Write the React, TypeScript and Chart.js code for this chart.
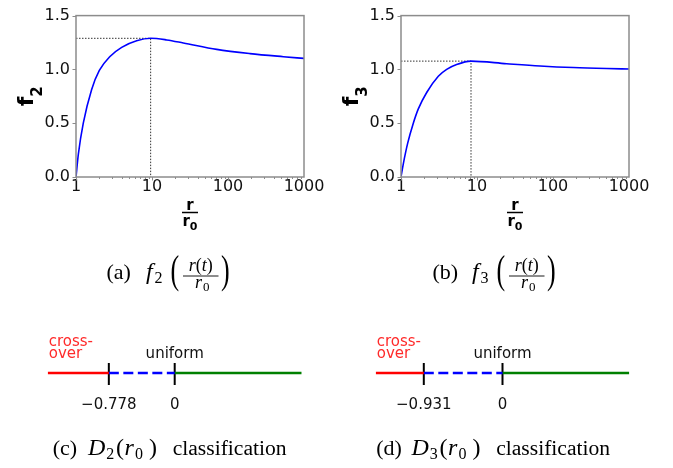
import React, { useEffect, useRef } from 'react';
import { Chart, registerables } from 'chart.js';

Chart.register(...registerables);

// ---------- data ----------
const f2R = [1, 1.074, 1.247, 1.607, 2.028, 2.8, 3.99, 6.28, 9.6, 15.6, 25.8, 71, 194.5, 534.6, 1000];
const f2V = [0, 0.212, 0.5, 0.814, 0.99, 1.12, 1.205, 1.266, 1.289, 1.274, 1.246, 1.186, 1.147, 1.118, 1.102];
const f2Peak = { r: 9.6, v: 1.289 };

const f3R = [1, 1.074, 1.225, 1.452, 1.69, 2.178, 3.097, 3.99, 5.395, 8.34, 24.5, 67.5, 185, 508, 1000];
const f3V = [0, 0.125, 0.315, 0.5, 0.633, 0.785, 0.936, 1.0, 1.045, 1.077, 1.053, 1.032, 1.017, 1.008, 1.004];
const f3Peak = { r: 8.34, v: 1.077 };

const xTickValues = [1, 10, 100, 1000];
const yTickValues = [0, 0.5, 1.0, 1.5];

const lineRange = [-1.5, 1.5];
const d2Thresholds = [-0.778, 0];
const d3Thresholds = [-0.931, 0];
const thresholdLabels2 = ['\u22120.778', '0'];
const thresholdLabels3 = ['\u22120.931', '0'];
const regionLabels = ['cross-', 'over'];
const uniformLabel = 'uniform';

// ---------- plot chart ----------
type PlotProps = {
  left: number; width: number; plotLeft: number; plotRight: number;
  rs: number[]; vs: number[]; peak: { r: number; v: number }; sub: string;
};

const H = 240;
const PLOT_TOP = 11;
const PLOT_BOTTOM = 177;

function PlotChart(p: PlotProps) {
  const ref = useRef<HTMLCanvasElement>(null);
  useEffect(() => {
    const canvas = ref.current!;
    const decor = {
      id: 'decor',
      afterDraw(chart: any) {
        const { ctx, chartArea: a, scales } = chart;
        ctx.save();
        ctx.strokeStyle = '#8c8c8c';
        ctx.lineWidth = 1.5;
        ctx.strokeRect(a.left, a.top, a.right - a.left, a.bottom - a.top);
        ctx.lineWidth = 1;
        const xs = scales.x;
        for (const dec of [1, 10, 100]) {
          for (let m = 1; m <= 9; m++) {
            const px = Math.round(xs.getPixelForValue(dec * m)) + 0.5;
            const len = m === 1 ? 3.5 : 2;
            ctx.beginPath();
            ctx.moveTo(px, a.bottom);
            ctx.lineTo(px, a.bottom + len);
            ctx.stroke();
          }
        }
        const ys = scales.y;
        for (const v of yTickValues) {
          const py = Math.round(ys.getPixelForValue(v)) + 0.5;
          ctx.beginPath();
          ctx.moveTo(a.left - 3.5, py);
          ctx.lineTo(a.left, py);
          ctx.stroke();
        }
        // y title  f_sub (rotated)
        ctx.fillStyle = '#000';
        ctx.translate(a.left - 43, (a.top + a.bottom) / 2);
        ctx.rotate(-Math.PI / 2);
        ctx.font = 'bold 22px "DejaVu Sans"';
        const wf = ctx.measureText('f').width;
        ctx.font = 'bold 15px "DejaVu Sans"';
        const ws = ctx.measureText(p.sub).width;
        const x0 = -(wf + ws) / 2;
        ctx.textBaseline = 'alphabetic';
        ctx.textAlign = 'left';
        ctx.font = 'bold 22px "DejaVu Sans"';
        ctx.fillText('f', x0, 0);
        ctx.font = 'bold 15px "DejaVu Sans"';
        ctx.fillText(p.sub, x0 + wf, 9);
        ctx.restore();
        // x title  r / r0
        ctx.save();
        ctx.fillStyle = '#000';
        const cx = (a.left + a.right) / 2;
        ctx.textBaseline = 'alphabetic';
        ctx.textAlign = 'center';
        ctx.font = 'bold 15px "DejaVu Sans"';
        ctx.fillText('r', cx, a.bottom + 33);
        ctx.strokeStyle = '#000';
        ctx.lineWidth = 1.5;
        ctx.beginPath();
        ctx.moveTo(cx - 8, a.bottom + 35.5);
        ctx.lineTo(cx + 8, a.bottom + 35.5);
        ctx.stroke();
        ctx.textAlign = 'left';
        const wr = ctx.measureText('r').width;
        ctx.font = 'bold 11px "DejaVu Sans"';
        const w0 = ctx.measureText('0').width;
        const sx = cx - (wr + w0) / 2;
        ctx.font = 'bold 15px "DejaVu Sans"';
        ctx.fillText('r', sx, a.bottom + 49);
        ctx.font = 'bold 11px "DejaVu Sans"';
        ctx.fillText('0', sx + wr, a.bottom + 53);
        ctx.restore();
      },
    };
    const chart = new Chart(canvas, {
      type: 'line',
      data: {
        datasets: [
          {
            data: p.rs.map((r, i) => ({ x: r, y: p.vs[i] })),
            borderColor: '#0000ff',
            borderWidth: 1.6,
            pointRadius: 0,
            cubicInterpolationMode: 'monotone',
            fill: false,
          },
          {
            data: [
              { x: 1, y: p.peak.v },
              { x: p.peak.r, y: p.peak.v },
              { x: p.peak.r, y: 0 },
            ],
            borderColor: '#333',
            borderWidth: 1,
            borderDash: [1.5, 1.5],
            pointRadius: 0,
            tension: 0,
            fill: false,
          },
        ],
      },
      options: {
        animation: false,
        responsive: false,
        devicePixelRatio: 1,
        layout: { padding: { left: 0, top: PLOT_TOP, right: p.width - p.plotRight, bottom: 0 } },
        plugins: { legend: { display: false }, tooltip: { enabled: false } },
        scales: {
          x: {
            type: 'logarithmic',
            min: 1,
            max: 1000,
            grid: { display: false, drawTicks: false },
            border: { display: false },
            afterBuildTicks: (s: any) => { s.ticks = xTickValues.map((v) => ({ value: v })); },
            afterFit: (s: any) => { s.height = H - PLOT_BOTTOM; },
            ticks: {
              padding: 0,
              autoSkip: false,
              maxRotation: 0,
              color: '#111',
              font: { family: 'DejaVu Sans', size: 16 },
              callback: (v: any) => String(v),
            },
          },
          y: {
            type: 'linear',
            min: 0,
            max: 1.5,
            grid: { display: false, drawTicks: false },
            border: { display: false },
            afterBuildTicks: (s: any) => { s.ticks = yTickValues.map((v) => ({ value: v })); },
            afterFit: (s: any) => { s.width = p.plotLeft; },
            ticks: {
              padding: 6,
              color: '#111',
              font: { family: 'DejaVu Sans', size: 16 },
              callback: (v: any) => Number(v).toFixed(1),
            },
          },
        },
      },
      plugins: [decor],
    } as any);
    return () => chart.destroy();
  }, []);
  return (
    <canvas
      ref={ref}
      width={p.width}
      height={H}
      style={{ position: 'absolute', left: p.left, top: 0, width: p.width, height: H }}
    />
  );
}

// ---------- number line chart ----------
type LineProps = {
  left: number; width: number; plotLeft: number; plotRight: number;
  thresholds: number[]; labels: string[];
};
const NL_TOP = 323;
const NL_H = 100;

function NumberLine(p: LineProps) {
  const ref = useRef<HTMLCanvasElement>(null);
  useEffect(() => {
    const canvas = ref.current!;
    const [t0, t1] = p.thresholds;
    const textPlugin = {
      id: 'nlText',
      afterDraw(chart: any) {
        const { ctx, scales } = chart;
        const xs = scales.x;
        const y0 = scales.y.getPixelForValue(0);
        ctx.save();
        ctx.textBaseline = 'alphabetic';
        ctx.font = '15px "DejaVu Sans"';
        ctx.fillStyle = '#111';
        ctx.textAlign = 'center';
        p.thresholds.forEach((t, i) => {
          ctx.fillText(p.labels[i], xs.getPixelForValue(t), y0 + 36);
        });
        ctx.fillText(uniformLabel, xs.getPixelForValue(t1), y0 - 15);
        ctx.fillStyle = '#ff2a2a';
        ctx.textAlign = 'left';
        const lx = xs.getPixelForValue(lineRange[0]) + 1;
        ctx.fillText(regionLabels[0], lx, y0 - 27.5);
        ctx.fillText(regionLabels[1], lx, y0 - 15);
        ctx.restore();
      },
    };
    const seg = (a: number, b: number) => [{ x: a, y: 0 }, { x: b, y: 0 }];
    const tick = (t: number) => [{ x: t, y: 0.2 }, { x: t, y: -0.24 }];
    const base = { showLine: true, pointRadius: 0, fill: false, tension: 0 };
    const chart = new Chart(canvas, {
      type: 'scatter',
      data: {
        datasets: [
          { ...base, data: seg(lineRange[0], t0), borderColor: '#ff0000', borderWidth: 2.5 },
          { ...base, data: seg(t0, t1), borderColor: '#0000ff', borderWidth: 2.5, borderDash: [10, 4.5] },
          { ...base, data: seg(t1, lineRange[1]), borderColor: '#008000', borderWidth: 2.5 },
          { ...base, data: tick(t0), borderColor: '#000', borderWidth: 2 },
          { ...base, data: tick(t1), borderColor: '#000', borderWidth: 2 },
        ],
      },
      options: {
        animation: false,
        responsive: false,
        devicePixelRatio: 1,
        layout: { padding: { left: p.plotLeft, right: p.width - p.plotRight, top: 0, bottom: 0 } },
        plugins: { legend: { display: false }, tooltip: { enabled: false } },
        scales: {
          x: { type: 'linear', min: lineRange[0], max: lineRange[1], display: false },
          y: { type: 'linear', min: -1, max: 1, display: false },
        },
      },
      plugins: [textPlugin],
    } as any);
    return () => chart.destroy();
  }, []);
  return (
    <canvas
      ref={ref}
      width={p.width}
      height={NL_H}
      style={{ position: 'absolute', left: p.left, top: NL_TOP, width: p.width, height: NL_H }}
    />
  );
}

// ---------- captions (SVG text) ----------
const SERIF = '"Liberation Serif", "Times New Roman", serif';

function FracCaption({ dx, letter, sub }: { dx: number; letter: string; sub: string }) {
  return (
    <g transform={`translate(${dx},0)`} fontFamily={SERIF} fill="#000">
      <text x={106.5} y={279} fontSize={22}>({letter})</text>
      <text x={146} y={279} fontSize={24} fontStyle="italic">f</text>
      <text x={154.5} y={283} fontSize={16}>{sub}</text>
      <text transform="translate(170.5,283) scale(0.65,1)" fontSize={40}>(</text>
      <text x={200.8} y={270.5} fontSize={18} textAnchor="middle">
        <tspan fontStyle="italic">r</tspan>(<tspan fontStyle="italic">t</tspan>)
      </text>
      <line x1={183} x2={218.5} y1={276} y2={276} stroke="#000" strokeWidth={0.9} />
      <text x={198.5} y={288} fontSize={18} textAnchor="middle">
        <tspan fontStyle="italic">r</tspan>
      </text>
      <text x={203} y={290.5} fontSize={13}>0</text>
      <text transform="translate(221,283) scale(0.65,1)" fontSize={40}>)</text>
    </g>
  );
}

function ClassCaption({ dx, letter, sub }: { dx: number; letter: string; sub: string }) {
  return (
    <g transform={`translate(${dx},0)`} fontFamily={SERIF} fill="#000">
      <text x={52.7} y={455} fontSize={22}>({letter})</text>
      <text x={88} y={455} fontSize={24} fontStyle="italic">D</text>
      <text x={106.2} y={459} fontSize={16}>{sub}</text>
      <text x={116} y={455} fontSize={24}>(</text>
      <text x={124.5} y={455} fontSize={24} fontStyle="italic">r</text>
      <text x={135} y={459} fontSize={16}>0</text>
      <text x={149} y={455} fontSize={24}>)</text>
      <text x={172.7} y={455} fontSize={21.6}>classification</text>
    </g>
  );
}

export default function App() {
  return (
    <div style={{ position: 'absolute', left: 0, top: 0, width: 673, height: 468, background: '#fff', overflow: 'hidden' }}>
      <PlotChart left={0} width={336} plotLeft={76} plotRight={304} rs={f2R} vs={f2V} peak={f2Peak} sub="2" />
      <PlotChart left={336} width={337} plotLeft={65} plotRight={293} rs={f3R} vs={f3V} peak={f3Peak} sub="3" />
      <NumberLine left={0} width={336} plotLeft={47.7} plotRight={301.7} thresholds={d2Thresholds} labels={thresholdLabels2} />
      <NumberLine left={336} width={337} plotLeft={39.7} plotRight={293.3} thresholds={d3Thresholds} labels={thresholdLabels3} />
      <svg width={673} height={468} style={{ position: 'absolute', left: 0, top: 0, pointerEvents: 'none' }}>
        <FracCaption dx={0} letter="a" sub="2" />
        <FracCaption dx={326} letter="b" sub="3" />
        <ClassCaption dx={0} letter="c" sub="2" />
        <ClassCaption dx={323.5} letter="d" sub="3" />
      </svg>
    </div>
  );
}
